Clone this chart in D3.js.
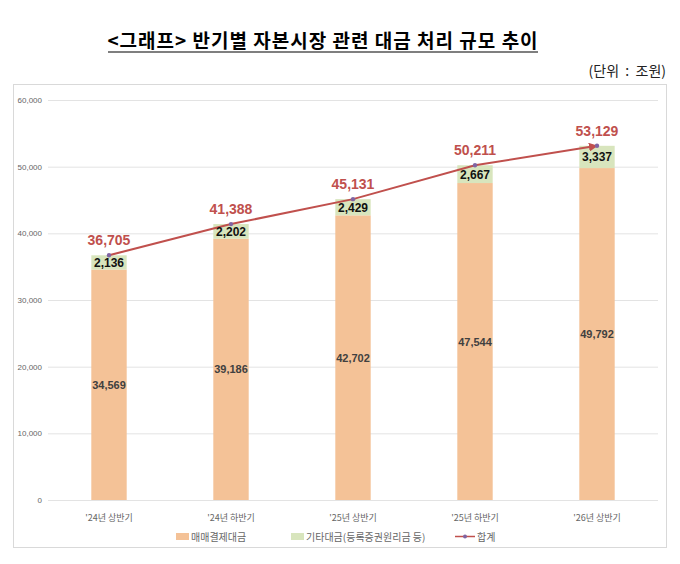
<!DOCTYPE html>
<html>
<head>
<meta charset="utf-8">
<script src="https://cdn.jsdelivr.net/npm/d3@7"></script>
<style>
  body { margin: 0; background: #fff; }
  svg { display: block; }
</style>
</head>
<body>
<div id="chart"></div>
<script>
const categories = ["'24년 상반기", "'24년 하반기", "'25년 상반기", "'25년 하반기", "'26년 상반기"];
const settlement = [34569, 39186, 42702, 47544, 49792];
const others = [2136, 2202, 2429, 2667, 3337];
const totals = [36705, 41388, 45131, 50211, 53129];
const yTicks = [0, 10000, 20000, 30000, 40000, 50000, 60000];
const seriesNames = ["매매결제대금", "기타대금(등록증권원리금 등)", "합계"];

const width = 680, height = 564;
const font = "'Liberation Sans', Arial, 'Noto Sans CJK KR', sans-serif";
const krFont = "'Noto Sans CJK KR', sans-serif";
const orange = "#f4c297", green = "#d8e5bd", red = "#c0504d", purple = "#8064a2";

const svg = d3.select("#chart").append("svg")
  .attr("width", width).attr("height", height)
  .style("font-family", font);

// title
svg.append("text")
  .attr("x", 323).attr("y", 48)
  .attr("text-anchor", "middle")
  .style("font-size", "19px").style("font-weight", "bold").style("fill", "#000")
  .style("letter-spacing", "1px")
  .style("font-family", krFont)
  .text("<그래프> 반기별 자본시장 관련 대금 처리 규모 추이");
svg.append("line")
  .attr("x1", 108).attr("x2", 538).attr("y1", 52).attr("y2", 52)
  .attr("stroke", "#000").attr("stroke-width", 1.2);

svg.append("text")
  .attr("x", 666).attr("y", 76)
  .attr("text-anchor", "end")
  .style("font-size", "14px").style("fill", "#222")
  .style("font-family", krFont)
  .style("white-space", "pre")
  .text("(단위  :  조원)");

// chart frame
svg.append("rect")
  .attr("x", 13.5).attr("y", 84.5).attr("width", 653).attr("height", 463)
  .attr("fill", "none").attr("stroke", "#d9d9d9");

const x = d3.scaleBand().domain(categories).range([48, 658]).paddingInner(0.71).paddingOuter(0.355);
const y = d3.scaleLinear().domain([0, 60000]).range([500, 100]);

// grid
svg.append("g").selectAll("line").data(yTicks).join("line")
  .attr("x1", 48).attr("x2", 658)
  .attr("y1", d => y(d) + 0.5).attr("y2", d => y(d) + 0.5)
  .attr("stroke", "#e3e3e3");

const yAxis = svg.append("g").attr("transform", "translate(42,0)")
  .call(d3.axisLeft(y).tickValues(yTicks).tickFormat(d3.format(",")).tickSize(0).tickPadding(0));
yAxis.select(".domain").remove();
yAxis.selectAll("text").style("font-size", "8px").style("fill", "#666").style("font-family", font);

const xAxis = svg.append("g").attr("transform", "translate(0,507)")
  .call(d3.axisBottom(x).tickSize(0).tickPadding(8));
xAxis.select(".domain").remove();
xAxis.selectAll("text").style("font-size", "9px").style("fill", "#666")
  .style("font-family", krFont);

// bars
const rows = categories.map((c, i) => ({ c, a: settlement[i], b: others[i], t: totals[i] }));
svg.append("g").selectAll("rect").data(rows).join("rect")
  .attr("x", d => x(d.c)).attr("width", x.bandwidth())
  .attr("y", d => y(d.a)).attr("height", d => y(0) - y(d.a))
  .attr("fill", orange);
svg.append("g").selectAll("rect").data(rows).join("rect")
  .attr("x", d => x(d.c)).attr("width", x.bandwidth())
  .attr("y", d => y(d.a + d.b)).attr("height", d => y(d.a) - y(d.a + d.b))
  .attr("fill", green);

// total line
svg.append("defs").append("marker")
  .attr("id", "arrow").attr("viewBox", "0 0 10 10")
  .attr("refX", 9).attr("refY", 5)
  .attr("markerWidth", 4.5).attr("markerHeight", 4.5)
  .attr("orient", "auto")
  .append("path").attr("d", "M0,0L10,5L0,10z").attr("fill", red);

const line = d3.line().x(d => x(d.c) + x.bandwidth() / 2).y(d => y(d.t));
svg.append("path").datum(rows)
  .attr("d", line).attr("fill", "none")
  .attr("stroke", red).attr("stroke-width", 2)
  .attr("marker-end", "url(#arrow)");
svg.append("g").selectAll("circle").data(rows).join("circle")
  .attr("cx", d => x(d.c) + x.bandwidth() / 2).attr("cy", d => y(d.t))
  .attr("r", 2.2).attr("fill", purple);

const fmt = d3.format(",");
const cx = d => x(d.c) + x.bandwidth() / 2;

svg.append("g").selectAll("text").data(rows).join("text")
  .attr("x", cx).attr("y", d => (y(d.a) + y(0)) / 2 + 4)
  .attr("text-anchor", "middle")
  .style("font-size", "11px").style("font-weight", "bold").style("fill", "#404040")
  .text(d => fmt(d.a));
svg.append("g").selectAll("text").data(rows).join("text")
  .attr("x", cx).attr("y", d => (y(d.a) + y(d.t)) / 2 + 4.5)
  .attr("text-anchor", "middle")
  .style("font-size", "12px").style("font-weight", "bold").style("fill", "#111")
  .text(d => fmt(d.b));
svg.append("g").selectAll("text").data(rows).join("text")
  .attr("x", cx).attr("y", d => y(d.t) - 10)
  .attr("text-anchor", "middle")
  .style("font-size", "14px").style("font-weight", "bold").style("fill", red)
  .text(d => fmt(d.t));

// legend
const lg = svg.append("g").style("font-family", krFont);
const legendX = [176, 291, 455];
lg.append("rect").attr("x", legendX[0]).attr("y", 533).attr("width", 13).attr("height", 7).attr("fill", orange);
lg.append("rect").attr("x", legendX[1]).attr("y", 533).attr("width", 13).attr("height", 7).attr("fill", green);
lg.append("line").attr("x1", legendX[2]).attr("x2", legendX[2] + 20).attr("y1", 536.5).attr("y2", 536.5)
  .attr("stroke", red).attr("stroke-width", 1.5);
lg.append("circle").attr("cx", legendX[2] + 10).attr("cy", 536.5).attr("r", 2).attr("fill", purple);
lg.selectAll("text").data(seriesNames).join("text")
  .attr("x", (d, i) => legendX[i] + (i === 2 ? 22 : 15)).attr("y", 540.5)
  .style("font-size", "10px").style("fill", "#666")
  .text(d => d);
</script>
</body>
</html>
